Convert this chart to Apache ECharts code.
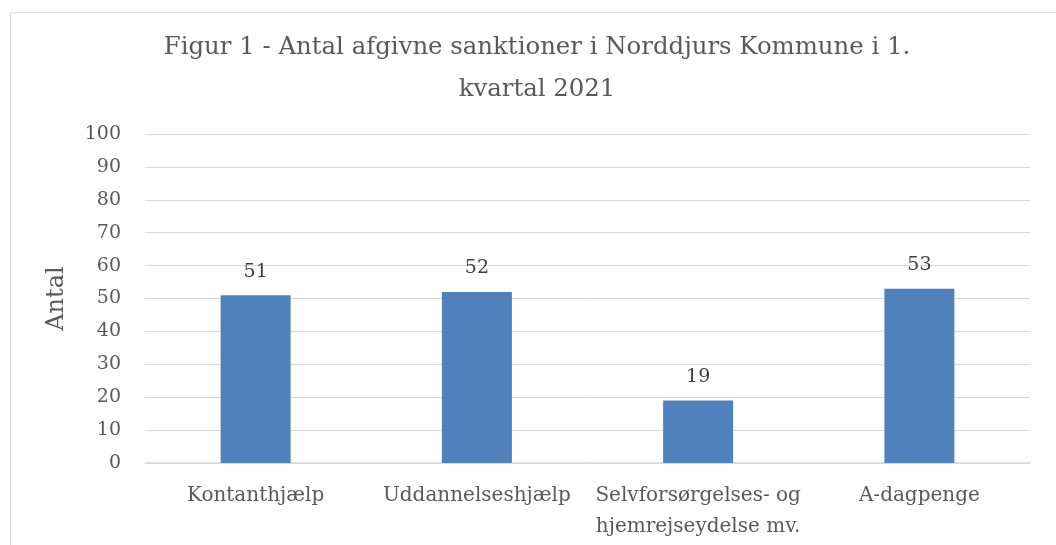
<!DOCTYPE html>
<html>
<head>
<meta charset="utf-8">
<script src="https://cdn.jsdelivr.net/npm/echarts@6/dist/echarts.min.js"></script>
<style>
  html, body { margin: 0; padding: 0; background: #fff; }
  #main { width: 1056px; height: 545px; }
</style>
</head>
<body>
<div id="main"></div>
<script>
var categories = ['Kontanthjælp', 'Uddannelseshjælp', 'Selvforsørgelses- og\nhjemrejseydelse mv.', 'A-dagpenge'];
var values = [51, 52, 19, 53];
var yMin = 0, yMax = 100, yStep = 10;

var font = 'DejaVu Serif';
var myChart = echarts.init(document.getElementById('main'));

var chartopt = {
  backgroundColor: '#fff',
  animation: false,
  graphic: [
    {
      type: 'rect',
      shape: { x: 10.5, y: 12.5, width: 1100, height: 600 },
      style: { fill: 'none', stroke: '#d9d9d9', lineWidth: 1 },
      z: -1
    },
    {
      type: 'text',
      x: 537,
      y: 27,
      style: {
        text: 'Figur 1 - Antal afgivne sanktioner i Norddjurs Kommune i 1.\nkvartal 2021',
        align: 'center',
        fontFamily: font,
        fontSize: 24.4,
        lineHeight: 42,
        fill: '#595959'
      }
    }
  ],
  grid: { left: 145, right: 26, top: 134, bottom: 82 },
  xAxis: {
    type: 'category',
    data: categories,
    axisLine: { lineStyle: { color: '#d9d9d9', width: 1.5 } },
    axisTick: { show: false },
    axisLabel: { color: '#595959', fontFamily: font, fontSize: 20, margin: 17, lineHeight: 31, interval: 0 }
  },
  yAxis: {
    type: 'value',
    min: yMin,
    max: yMax,
    interval: yStep,
    name: 'Antal',
    nameLocation: 'middle',
    nameGap: 76,
    nameTextStyle: { color: '#595959', fontFamily: font, fontSize: 24 },
    axisLabel: { color: '#595959', fontFamily: font, fontSize: 19, margin: 24 },
    splitLine: { lineStyle: { color: '#d9d9d9', width: 1 } },
    axisLine: { show: false },
    axisTick: { show: false }
  },
  series: [
    {
      type: 'bar',
      data: values,
      barWidth: 70,
      itemStyle: { color: '#4f81bd' },
      label: {
        show: true,
        position: 'top',
        distance: 14,
        color: '#404040',
        fontFamily: font,
        fontSize: 19
      }
    }
  ]
};
myChart.setOption(chartopt);
</script>
</body>
</html>
